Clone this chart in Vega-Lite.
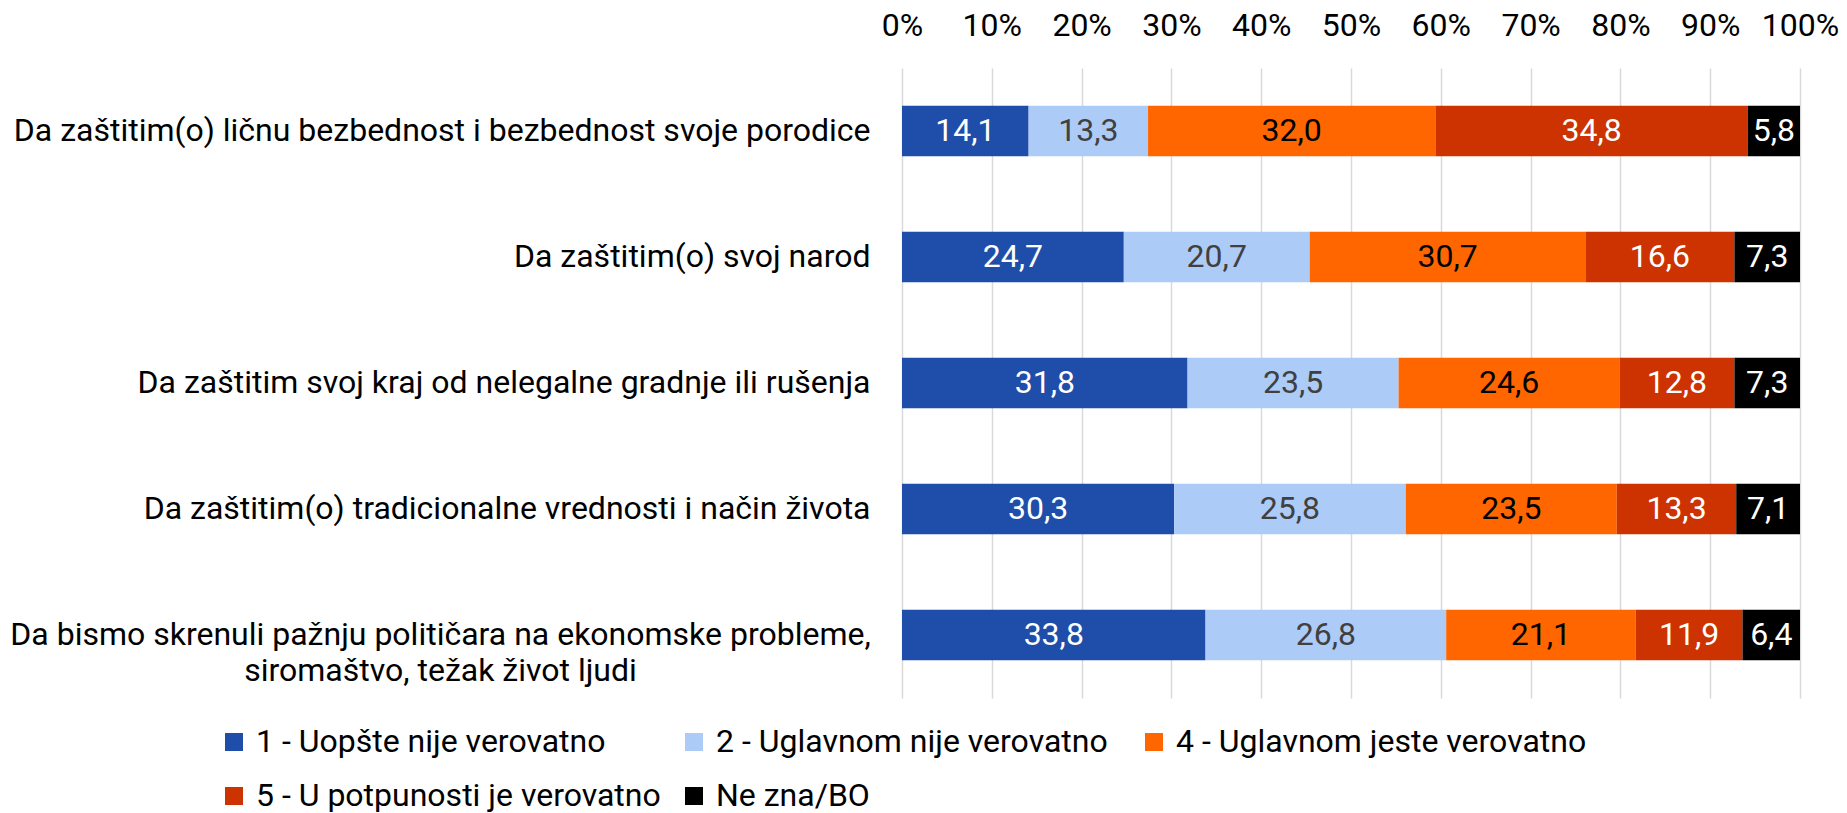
{
  "$schema": "https://vega.github.io/schema/vega-lite/v6.json",
  "width": 898,
  "height": 630,
  "autosize": {"type": "none"},
  "padding": {"left": 902, "top": 68, "right": 47, "bottom": 115},
  "background": "white",
  "config": {
    "view": {"stroke": null},
    "font": "Roboto",
    "locale": {"number": {"decimal": ",", "thousands": ".", "grouping": [3], "currency": ["", " €"]}}
  },
  "data": {
    "values": [
      {"q": "Da zaštitim(o) ličnu bezbednost i bezbednost svoje porodice", "cat": "1 - Uopšte nije verovatno", "value": 14.1},
      {"q": "Da zaštitim(o) ličnu bezbednost i bezbednost svoje porodice", "cat": "2 - Uglavnom nije verovatno", "value": 13.3},
      {"q": "Da zaštitim(o) ličnu bezbednost i bezbednost svoje porodice", "cat": "4 - Uglavnom jeste verovatno", "value": 32.0},
      {"q": "Da zaštitim(o) ličnu bezbednost i bezbednost svoje porodice", "cat": "5 - U potpunosti je verovatno", "value": 34.8},
      {"q": "Da zaštitim(o) ličnu bezbednost i bezbednost svoje porodice", "cat": "Ne zna/BO", "value": 5.8},
      {"q": "Da zaštitim(o) svoj narod", "cat": "1 - Uopšte nije verovatno", "value": 24.7},
      {"q": "Da zaštitim(o) svoj narod", "cat": "2 - Uglavnom nije verovatno", "value": 20.7},
      {"q": "Da zaštitim(o) svoj narod", "cat": "4 - Uglavnom jeste verovatno", "value": 30.7},
      {"q": "Da zaštitim(o) svoj narod", "cat": "5 - U potpunosti je verovatno", "value": 16.6},
      {"q": "Da zaštitim(o) svoj narod", "cat": "Ne zna/BO", "value": 7.3},
      {"q": "Da zaštitim svoj kraj od nelegalne gradnje ili rušenja ", "cat": "1 - Uopšte nije verovatno", "value": 31.8},
      {"q": "Da zaštitim svoj kraj od nelegalne gradnje ili rušenja ", "cat": "2 - Uglavnom nije verovatno", "value": 23.5},
      {"q": "Da zaštitim svoj kraj od nelegalne gradnje ili rušenja ", "cat": "4 - Uglavnom jeste verovatno", "value": 24.6},
      {"q": "Da zaštitim svoj kraj od nelegalne gradnje ili rušenja ", "cat": "5 - U potpunosti je verovatno", "value": 12.8},
      {"q": "Da zaštitim svoj kraj od nelegalne gradnje ili rušenja ", "cat": "Ne zna/BO", "value": 7.3},
      {"q": "Da zaštitim(o) tradicionalne vrednosti i način života", "cat": "1 - Uopšte nije verovatno", "value": 30.3},
      {"q": "Da zaštitim(o) tradicionalne vrednosti i način života", "cat": "2 - Uglavnom nije verovatno", "value": 25.8},
      {"q": "Da zaštitim(o) tradicionalne vrednosti i način života", "cat": "4 - Uglavnom jeste verovatno", "value": 23.5},
      {"q": "Da zaštitim(o) tradicionalne vrednosti i način života", "cat": "5 - U potpunosti je verovatno", "value": 13.3},
      {"q": "Da zaštitim(o) tradicionalne vrednosti i način života", "cat": "Ne zna/BO", "value": 7.1},
      {"q": "Da bismo skrenuli pažnju političara na ekonomske probleme,|siromaštvo, težak život ljudi", "cat": "1 - Uopšte nije verovatno", "value": 33.8},
      {"q": "Da bismo skrenuli pažnju političara na ekonomske probleme,|siromaštvo, težak život ljudi", "cat": "2 - Uglavnom nije verovatno", "value": 26.8},
      {"q": "Da bismo skrenuli pažnju političara na ekonomske probleme,|siromaštvo, težak život ljudi", "cat": "4 - Uglavnom jeste verovatno", "value": 21.1},
      {"q": "Da bismo skrenuli pažnju političara na ekonomske probleme,|siromaštvo, težak život ljudi", "cat": "5 - U potpunosti je verovatno", "value": 11.9},
      {"q": "Da bismo skrenuli pažnju političara na ekonomske probleme,|siromaštvo, težak život ljudi", "cat": "Ne zna/BO", "value": 6.4}
    ]
  },
  "transform": [
    {"stack": "value", "groupby": ["q"], "sort": [{"field": "cat", "order": "ascending"}], "as": ["v0", "v1"]}
  ],
  "encoding": {
    "y": {
      "field": "q",
      "type": "nominal",
      "sort": null,
      "scale": {"paddingInner": 0.6, "paddingOuter": 0.3},
      "axis": {
        "title": null,
        "domain": false,
        "ticks": false,
        "tickSize": 0,
        "labelFont": "Roboto",
        "labelFontSize": 32,
        "labelColor": "#000000",
        "labelLimit": 1200,
        "labelLineHeight": 36,
        "labelBaseline": "middle",
        "labelExpr": "split(datum.label, '|')",
        "labelAlign": {"condition": {"test": "indexof(datum.value, '|') >= 0", "value": "center"}, "value": "right"},
        "labelPadding": {"condition": {"test": "indexof(datum.value, '|') >= 0", "value": 462}, "value": 32}
      }
    },
    "x": {
      "field": "v0",
      "type": "quantitative",
      "scale": {"domain": [0, 100], "nice": false},
      "axis": {
        "orient": "top",
        "title": null,
        "values": [0, 10, 20, 30, 40, 50, 60, 70, 80, 90, 100],
        "labelExpr": "datum.value + '%'",
        "domain": false,
        "ticks": false,
        "tickSize": 0,
        "grid": true,
        "gridColor": "#D9D9D9",
        "gridWidth": 1.5,
        "labelFont": "Roboto",
        "labelFontSize": 32,
        "labelColor": "#000000",
        "labelBaseline": "alphabetic",
        "labelPadding": 33,
        "labelFlush": false,
        "labelOverlap": false
      }
    }
  },
  "layer": [
    {
      "mark": {"type": "bar"},
      "encoding": {
        "x2": {"field": "v1"},
        "color": {
          "field": "cat",
          "type": "nominal",
          "scale": {
            "domain": ["1 - Uopšte nije verovatno", "2 - Uglavnom nije verovatno", "4 - Uglavnom jeste verovatno", "5 - U potpunosti je verovatno", "Ne zna/BO"],
            "range": ["#1F4EAA", "#ADCBF7", "#FF6600", "#CC3300", "#000000"]
          },
          "legend": {
            "title": null,
            "orient": "none",
            "legendX": -684,
            "legendY": 658,
            "direction": "horizontal",
            "columns": 3,
            "gridAlign": "all",
            "columnPadding": 11,
            "rowPadding": 22,
            "padding": 0,
            "symbolType": "square",
            "symbolSize": 324,
            "symbolStrokeWidth": 0,
            "labelOffset": 6,
            "labelFont": "Roboto",
            "labelFontSize": 32,
            "labelColor": "#000000",
            "labelLimit": 800
          }
        }
      }
    },
    {
      "mark": {
        "type": "text",
        "font": "Roboto",
        "fontSize": 32,
        "align": "center",
        "baseline": "middle",
        "dx": {"expr": "(scale('x', datum.v1) - scale('x', datum.v0)) / 2"}
      },
      "encoding": {
        "text": {"field": "value", "type": "quantitative", "format": ".1f"},
        "color": {
          "condition": [
            {"test": "datum.cat === '2 - Uglavnom nije verovatno'", "value": "#404040"},
            {"test": "datum.cat === '4 - Uglavnom jeste verovatno'", "value": "#000000"}
          ],
          "value": "#FFFFFF"
        }
      }
    }
  ]
}
